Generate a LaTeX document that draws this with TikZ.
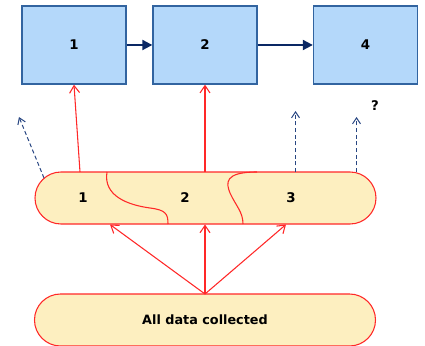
\documentclass[tikz,border=0pt]{standalone}
\usepackage{fontspec}
\setmainfont{DejaVu Sans}
\usetikzlibrary{arrows.meta}
\definecolor{boxfill}{RGB}{180,216,250}
\definecolor{boxline}{RGB}{50,100,160}
\definecolor{pillfill}{RGB}{253,239,192}
\definecolor{pillline}{RGB}{255,40,40}
\definecolor{navy}{RGB}{10,40,100}
\definecolor{dnavy}{RGB}{40,70,130}
\tikzset{
  stagebox/.style={draw=boxline, line width=1pt, fill=boxfill, minimum width=78pt, minimum height=58.5pt, inner sep=0pt, font=\bfseries\fontsize{10}{12}\selectfont},
  pill/.style={draw=pillline, line width=0.8pt, fill=pillfill, rounded corners=19.5pt, minimum width=255.75pt, minimum height=39pt, inner sep=0pt},
  lbl/.style={font=\bfseries\fontsize{10}{12}\selectfont, inner sep=0pt},
  flow/.style={draw=navy, line width=1.5pt, -{Triangle[length=7.5pt,width=7.5pt]}},
  feed/.style={draw=pillline, line width=0.8pt, -{Straight Barb[length=5.5pt,width=7.5pt]}},
  maybe/.style={draw=dnavy, line width=0.75pt, dash pattern=on 3pt off 2pt, -{Straight Barb[length=4.5pt,width=6pt]}},
}
\begin{document}
\begin{tikzpicture}[x=0.75pt,y=-0.75pt]
\useasboundingbox (0,0) rectangle (425,346);
% top boxes
\node[stagebox] (b1) at (74,45) {1};
\node[stagebox] (b2) at (205,45) {2};
\node[stagebox] (b4) at (365.5,45) {4};
\draw[flow] (b1.east) -- (b2.west);
\draw[flow] (b2.east) -- (b4.west);
% middle pill
\node[pill] (p) at (205.5,198) {};
\draw[pillline, line width=0.8pt] (107,172) .. controls (103,196) and (128,205) .. (150,208) .. controls (166,210) and (168,214) .. (168,224);
\draw[pillline, line width=0.8pt] (257,172) .. controls (224,172) and (226,183) .. (230,193) .. controls (236,206) and (243,212) .. (243,224);
\node[lbl] (l1) at (83,198) {1};
\node[lbl] (l2) at (185,198) {2};
\node[lbl] (l3) at (291,198) {3};
% bottom pill
\node[pill] (d) at (205,320) {};
\node[lbl, font=\bfseries\fontsize{9.6}{12}\selectfont] (dl) at (205,320) {All data collected};
% feeds up to boxes
\coordinate (p1) at (80,172);
\coordinate (p2) at (205,172);
\draw[feed] (p1) -- (b1.south);
\draw[feed] (p2) -- (b2.south);
% dashed outputs
\coordinate (q0) at (44,178);
\coordinate (q0e) at (19,117);
\coordinate (q3) at (295.5,172);
\coordinate (q3e) at (295.5,111);
\coordinate (q4) at (356.5,172);
\coordinate (q4e) at (356.5,117);
\draw[maybe] (q0) -- (q0e);
\draw[maybe] (q3) -- (q3e);
\draw[maybe] (q4) -- (q4e);
\node[lbl] (qm) at (375,106) {?};
% from all data up
\coordinate (dt) at (205,294);
\coordinate (t1) at (110,224.5);
\coordinate (t2) at (205,224.5);
\coordinate (t3) at (286,224.5);
\draw[feed] (dt) -- (t1);
\draw[feed] (dt) -- (t2);
\draw[feed] (dt) -- (t3);
\end{tikzpicture}
\end{document}
